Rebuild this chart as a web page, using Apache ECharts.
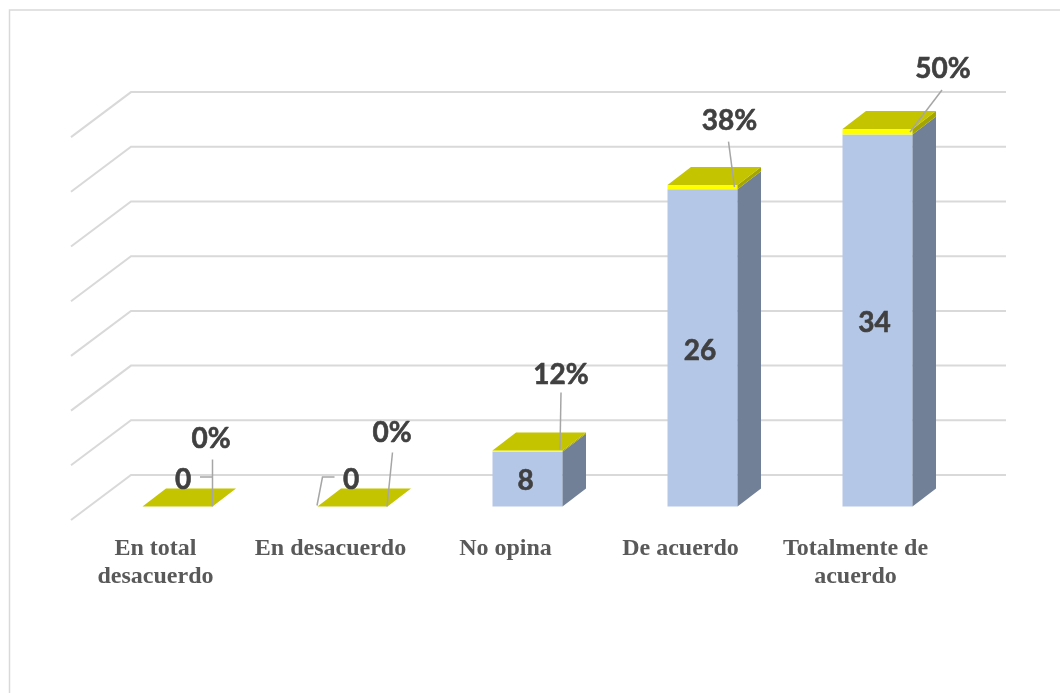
<!DOCTYPE html>
<html>
<head>
<meta charset="utf-8">
<style>html,body{margin:0;padding:0;background:#fff;overflow:hidden}#c{width:1060px;height:693px}</style>
<script src="https://cdn.jsdelivr.net/npm/echarts@6/dist/echarts.min.js"></script>
</head>
<body>
<div id="c"></div>
<script>
// Data
const categories = ['En total\ndesacuerdo', 'En desacuerdo', 'No opina', 'De acuerdo', 'Totalmente de\nacuerdo'];
const barHeights = [0, 0, 5, 29, 34];          // drawn height on the value axis
const capHeights = [0, 0, 0.12, 0.38, 0.5];    // thin top segment (the percentage series)
const countLabels = ['0', '0', '8', '26', '34'];
const percentLabels = ['0%', '0%', '12%', '38%', '50%'];
const wallTicks = [0, 5, 10, 15, 20, 25, 30, 35];

// Layout of the pseudo-3D drawing, in pixels
const BAR_SHIFT = 22, DEPTH_X = 23.5, DEPTH_Y = 18;
const WALL_X = 60, WALL_FRONT_Y = 13.5, WALL_BACK_Y = -31.5, WALL_LEFT = 3;
// label offsets relative to the bar's top front-centre
const countOffset = [[5.5, -26.5], [-1.5, -26.5], [-2, 30], [-2.5, 166], [-3, 194]];
const percentOffset = [[33.5, -67.5], [39.5, -73.5], [33.5, -76], [27, -64], [65.5, -60]];
// leader lines relative to the bar's top front-centre
const percentLeaders = [
  [[35, -47], [35, 0]],
  [[40, -54], [34.5, 0]],
  [[33.5, -58], [32.5, -1]],
  [[26, -43.5], [32, 2]],
  [[64.5, -39], [32.5, 3]]
];
const countLeaders = [
  [[22.5, -29.5], [35, -29.5]],
  [[-18, -29.5], [-30, -29.5], [-35.5, -1]],
  null, null, null
];

const COL = {
  wall: '#d9d9d9', front: '#b4c7e7', side: '#718096', top: '#c4c400',
  capFront: '#ffff00', capSide: '#a5a500', leader: '#a6a6a6', text: '#404040'
};

function poly(points, fill) {
  return { type: 'polygon', shape: { points: points }, style: { fill: fill, stroke: null } };
}

function boxAt(api, params, idx, base, height, frontCol, sideCol, withTop) {
  const bottom = api.coord([idx, base]);
  const top = api.coord([idx, base + height]);
  const w = api.size([1, 0])[0] * 0.4;
  const cx = bottom[0] + BAR_SHIFT;
  const l = cx - w / 2, r = cx + w / 2;
  const out = [];
  if (height > 0) {
    out.push(poly([[l, bottom[1]], [r, bottom[1]], [r, top[1]], [l, top[1]]], frontCol));
    out.push(poly([[r, bottom[1]], [r + DEPTH_X, bottom[1] - DEPTH_Y], [r + DEPTH_X, top[1] - DEPTH_Y], [r, top[1]]], sideCol));
  }
  if (withTop) {
    out.push(poly([[l, top[1]], [r, top[1]], [r + DEPTH_X, top[1] - DEPTH_Y], [l + DEPTH_X, top[1] - DEPTH_Y]], COL.top));
  }
  return out;
}

const option = {
  animation: false,
  backgroundColor: '#ffffff',
  graphic: [{
    type: 'rect', silent: true, z: -10,
    shape: { x: 9.5, y: 10, width: 1200, height: 900 },
    style: { fill: null, stroke: COL.wall, lineWidth: 1.5 }
  }],
  grid: { left: 68, right: 117, top: 123.6, bottom: 186.5 },
  xAxis: {
    type: 'category', data: categories,
    axisLine: { show: false }, axisTick: { show: false },
    axisLabel: {
      interval: 0, margin: 28, lineHeight: 28,
      fontFamily: 'Liberation Serif', fontWeight: 'bold', fontSize: 24, color: '#595959'
    }
  },
  yAxis: { type: 'value', min: 0, max: 35, interval: 5, show: false },
  series: [
    {
      name: 'wall', type: 'custom', z: 1, silent: true, clip: false,
      data: wallTicks.map(v => [0, v]),
      renderItem(params, api) {
        const y = api.coord([0, api.value(1)])[1];
        const cs = params.coordSys;
        const x0 = cs.x + WALL_LEFT, x1 = x0 + WALL_X, x2 = cs.x + cs.width + WALL_X + WALL_LEFT;
        return {
          type: 'polyline',
          shape: { points: [[x0, y + WALL_FRONT_Y], [x1, y + WALL_BACK_Y], [x2, y + WALL_BACK_Y]] },
          style: { fill: null, stroke: COL.wall, lineWidth: 2 }
        };
      }
    },
    {
      name: 'Cantidad', type: 'custom', z: 2, silent: true, clip: false,
      data: barHeights.map((v, i) => [i, v]),
      renderItem(params, api) {
        const i = api.value(0), h = api.value(1);
        return { type: 'group', children: boxAt(api, params, i, 0, h, COL.front, COL.side, false) };
      }
    },
    {
      name: 'Porcentaje', type: 'custom', z: 3, silent: true, clip: false,
      data: capHeights.map((v, i) => [i, barHeights[i], v]),
      renderItem(params, api) {
        const i = api.value(0), base = api.value(1), h = api.value(2);
        return { type: 'group', children: boxAt(api, params, i, base, h, COL.capFront, COL.capSide, true) };
      }
    },
    {
      name: 'labels', type: 'custom', z: 4, silent: true, clip: false,
      data: barHeights.map((v, i) => [i, v + capHeights[i]]),
      renderItem(params, api) {
        const i = api.value(0);
        const p = api.coord([i, api.value(1)]);
        const ax = p[0] + BAR_SHIFT, ay = p[1];
        const children = [];
        [percentLeaders[i], countLeaders[i]].forEach(pts => {
          if (!pts) return;
          children.push({
            type: 'polyline',
            shape: { points: pts.map(q => [ax + q[0], ay + q[1]]) },
            style: { fill: null, stroke: COL.leader, lineWidth: 1.5 }
          });
        });
        const txt = (s, off) => ({
          type: 'text',
          style: {
            text: s, x: ax + off[0], y: ay + off[1], align: 'center', verticalAlign: 'middle',
            font: 'bold 28px Lato', fill: COL.text, stroke: COL.text, lineWidth: 0.6
          }
        });
        children.push(txt(countLabels[i], countOffset[i]));
        children.push(txt(percentLabels[i], percentOffset[i]));
        return { type: 'group', children: children };
      }
    }
  ]
};

echarts.init(document.getElementById('c'), null, { renderer: 'canvas' }).setOption(option);
</script>
</body>
</html>
